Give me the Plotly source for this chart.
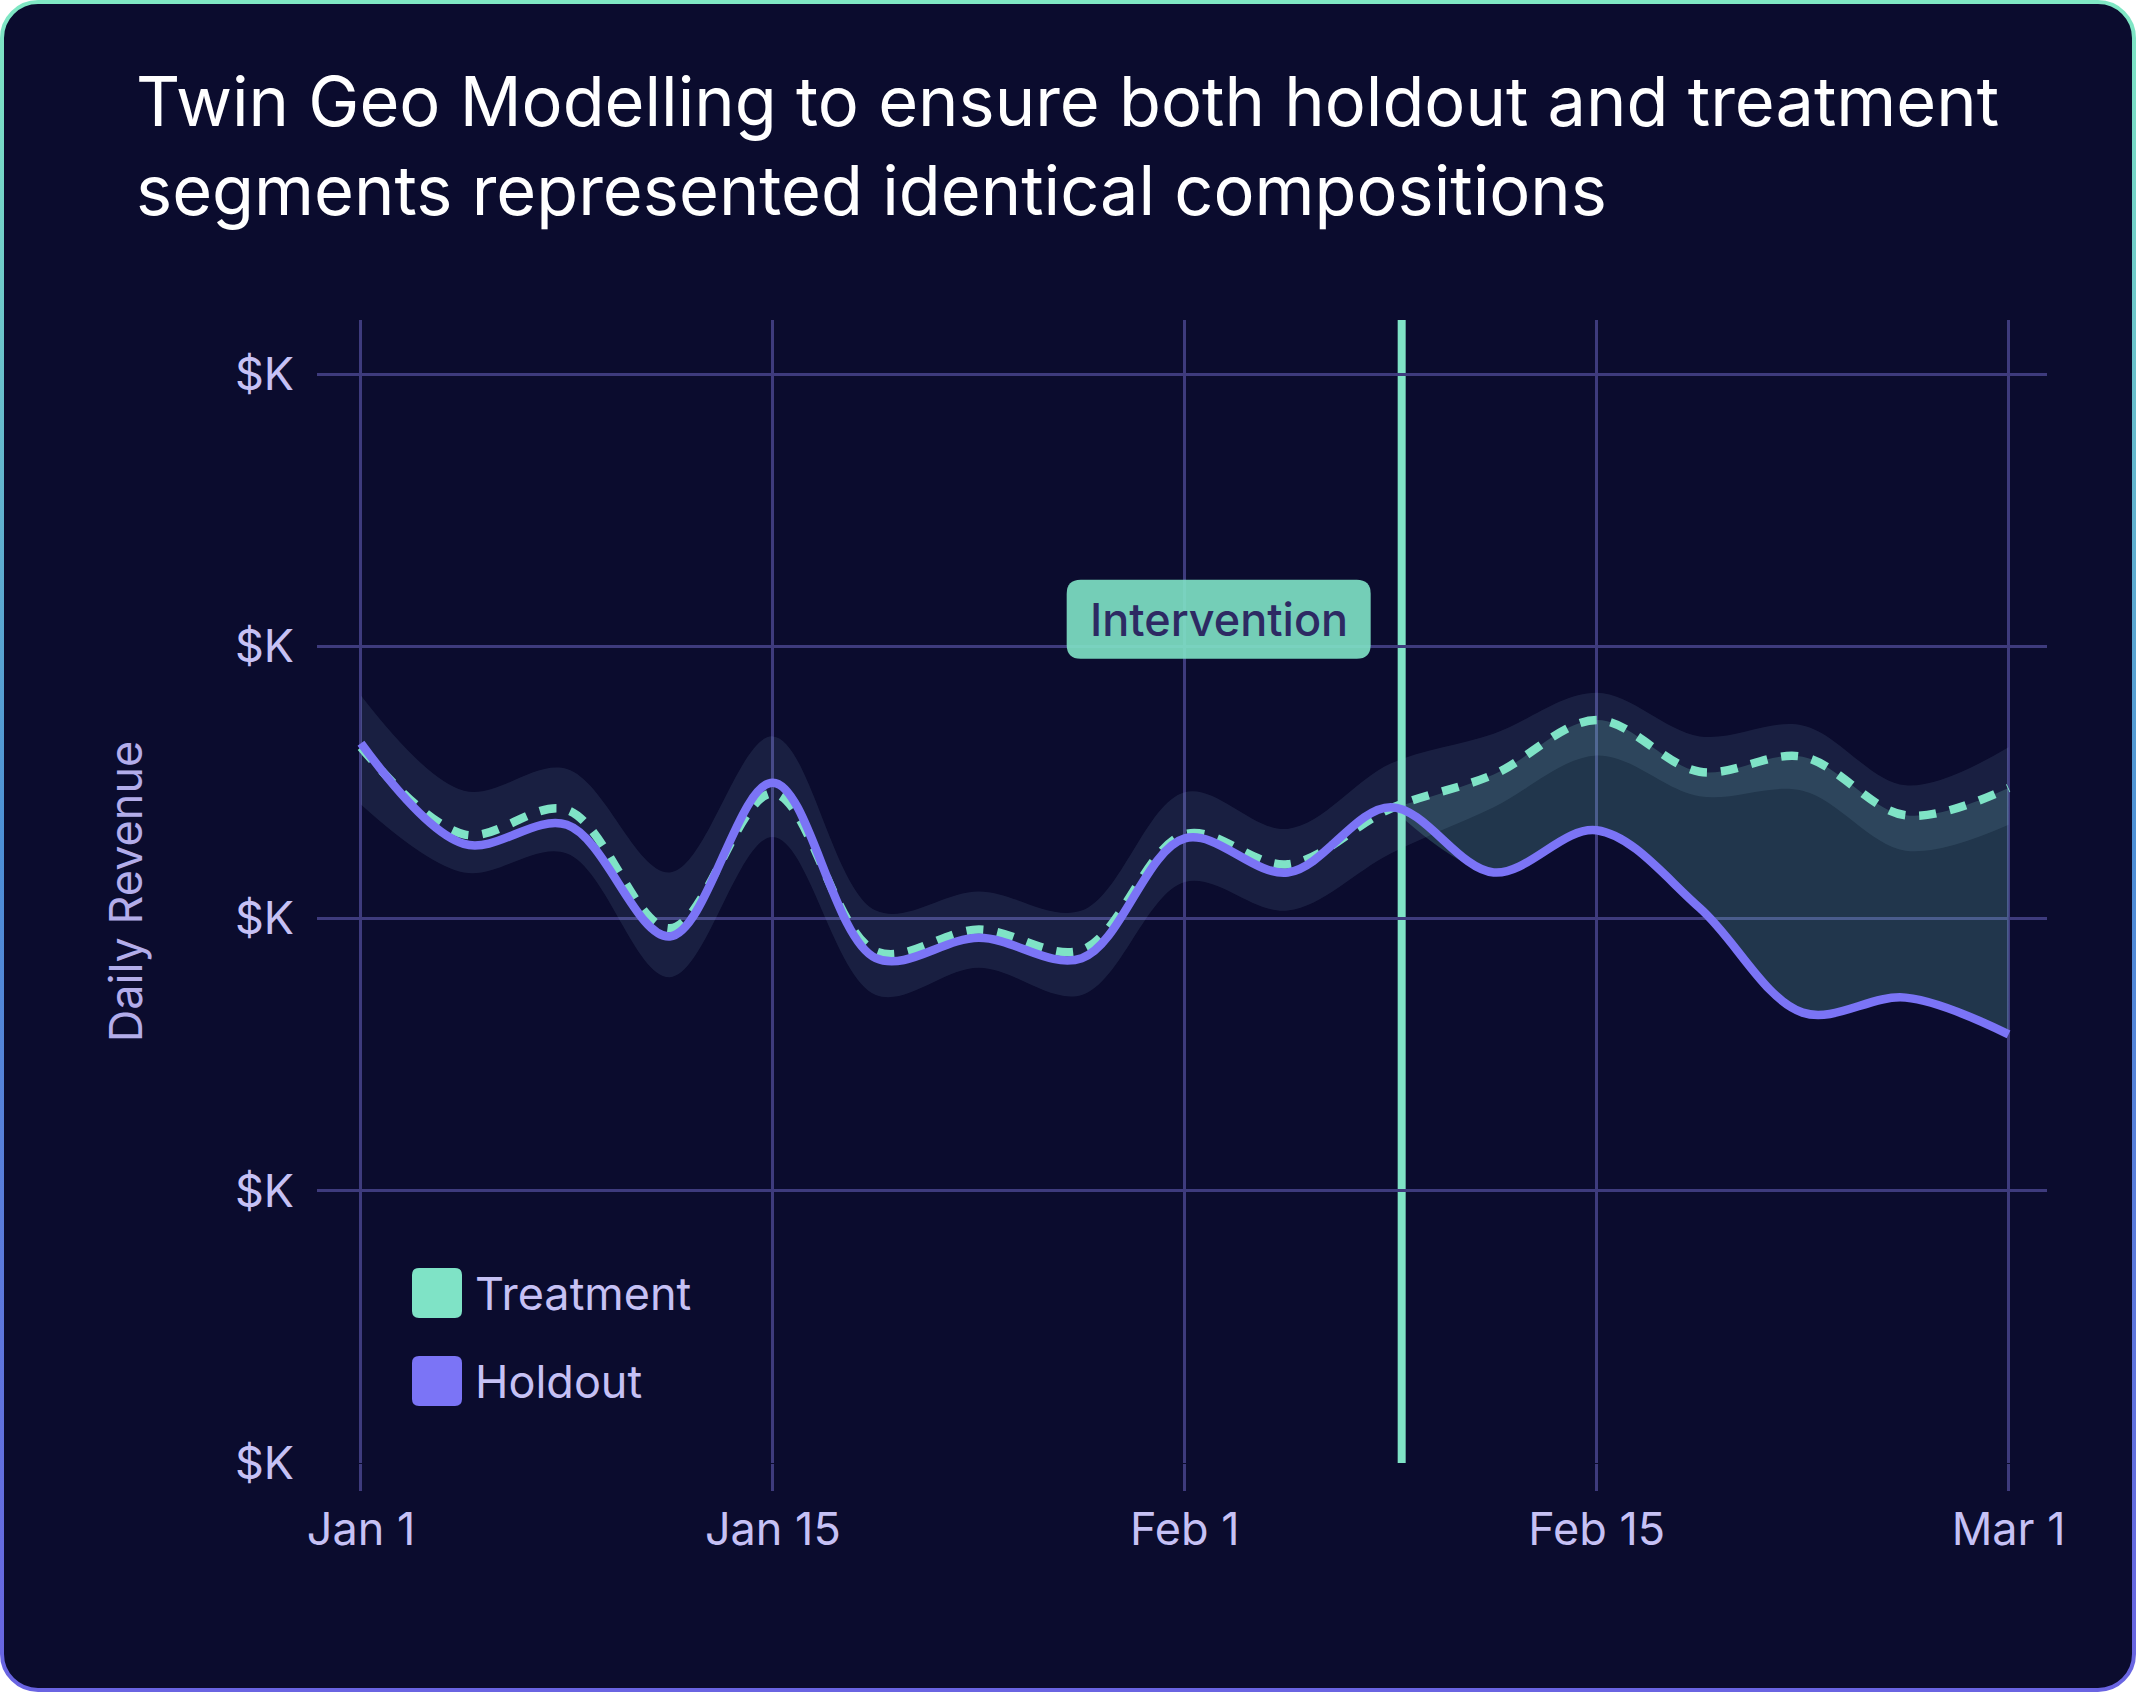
import base64
import plotly.graph_objects as go

# ---------------- data ----------------
days = [0, 3.75, 7.5, 11.25, 15, 18.75, 22.5, 26.25, 30, 33.75, 37.5,
        41.25, 45, 48.75, 52.5, 56.25, 60]
treatment = [26.3, 23.1, 24.0, 19.65, 24.6, 18.8, 19.6, 18.85, 23.1, 22.0, 24.05,
             25.3, 27.3, 25.4, 25.95, 23.8, 24.8]
holdout = [26.45, 22.75, 23.45, 19.35, 25.0, 18.55, 19.3, 18.55, 22.95, 21.7, 24.1,
           21.7, 23.25, 20.4, 16.55, 17.1, 15.75]
band_upper = [28.2, 24.7, 25.5, 21.7, 26.7, 20.3, 21.0, 20.3, 24.65, 23.3, 25.7,
              26.8, 28.3, 26.7, 27.1, 24.9, 26.3]
band_lower = [24.2, 21.7, 22.4, 17.85, 23.0, 17.2, 18.2, 17.2, 21.35, 20.3, 22.4,
              24.1, 26.0, 24.5, 24.7, 22.5, 23.45]
post_start = 10                      # first index after the intervention
intervention_day = 37.9
tick_days = [0, 15, 30, 45, 60]
tick_labels = ["Jan 1", "Jan 15", "Feb 1", "Feb 15", "Mar 1"]
y_ticks = [0, 10, 20, 30, 40]
y_tick_labels = ["$K", "$K", "$K", "$K", "$K"]
x_range = [-1.6, 61.4]
y_range = [0, 42]
label_y = 31

# ---------------- style ----------------
W, H = 2136, 1692
ML, MR, MT, MB = 317, 89, 320, 229
PW, PH = W - ML - MR, H - MT - MB
BG = "#0b0c2e"
GRID = "#3e3b7d"
TEAL = "#7fe3c6"
PURPLE = "#7b74f6"
LABEL = "#c6c1f5"
FONT = "Inter"


def px_x(x):
    return (x - ML) / PW


def px_y(y):
    return (MT + PH - y) / PH


def rrect(x0, y0, x1, y1, r):
    return (f"M{x0 + r},{y0} L{x1 - r},{y0} Q{x1},{y0} {x1},{y0 + r} "
            f"L{x1},{y1 - r} Q{x1},{y1} {x1 - r},{y1} L{x0 + r},{y1} "
            f"Q{x0},{y1} {x0},{y1 - r} L{x0},{y0 + r} Q{x0},{y0} {x0 + r},{y0} Z")


fig = go.Figure()

# confidence band
fig.add_trace(go.Scatter(x=days, y=band_lower, mode="lines",
                         line=dict(width=0, shape="spline"),
                         showlegend=False, hoverinfo="skip"))
fig.add_trace(go.Scatter(x=days, y=band_upper, mode="lines",
                         line=dict(width=0, shape="spline"), fill="tonexty",
                         fillcolor="rgba(160,210,235,0.1)",
                         showlegend=False, hoverinfo="skip"))
# gap between treatment and holdout after intervention
fig.add_trace(go.Scatter(x=days[post_start:], y=holdout[post_start:], mode="lines",
                         line=dict(width=0, shape="spline"),
                         showlegend=False, hoverinfo="skip"))
fig.add_trace(go.Scatter(x=days[post_start:], y=treatment[post_start:], mode="lines",
                         line=dict(width=0, shape="spline"), fill="tonexty",
                         fillcolor="rgba(127,227,198,0.2)",
                         showlegend=False, hoverinfo="skip"))
# lines
fig.add_trace(go.Scatter(x=days, y=treatment, mode="lines", name="Treatment",
                         line=dict(color=TEAL, width=8.5, shape="spline", dash="17px,14px"),
                         showlegend=False))
fig.add_trace(go.Scatter(x=days, y=holdout, mode="lines", name="Holdout",
                         line=dict(color=PURPLE, width=8.5, shape="spline"),
                         showlegend=False))

shapes = [
    dict(type="line", xref="x", yref="y", x0=intervention_day, x1=intervention_day,
         y0=y_range[0], y1=y_range[1], line=dict(color=TEAL, width=8), layer="below"),
    dict(type="path", xref="x", yref="y", xsizemode="pixel", ysizemode="pixel",
         xanchor=intervention_day, yanchor=label_y,
         path=rrect(-335, -39.5, -31, 39.5, 14),
         fillcolor="rgba(127,227,198,0.9)", line=dict(width=0), layer="above"),
]
legend_items = [("Treatment", TEAL, 1268), ("Holdout", PURPLE, 1356)]
annotations = [
    dict(x=intervention_day, y=label_y, xref="x", yref="y", xshift=-183,
         text="Intervention", showarrow=False, xanchor="center", yanchor="middle",
         font=dict(family=FONT, size=45, color="#2d2a63", weight=500)),
]
for name, col, top in legend_items:
    shapes.append(dict(type="path", xref="paper", yref="paper",
                       xsizemode="pixel", ysizemode="pixel",
                       xanchor=px_x(412), yanchor=px_y(top + 25),
                       path=rrect(0, -25, 50, 25, 7),
                       fillcolor=col, line=dict(width=0)))
    annotations.append(dict(x=px_x(473), y=px_y(top + 25), xref="paper", yref="paper",
                            text=name, showarrow=False, xanchor="left", yanchor="middle",
                            font=dict(family=FONT, size=45, color=LABEL)))

svg = (f"<svg xmlns='http://www.w3.org/2000/svg' width='{W}' height='{H}' "
       f"viewBox='0 0 {W} {H}'><defs><linearGradient id='g' x1='0' y1='0' x2='0' y2='1'>"
       "<stop offset='0' stop-color='#80e8c4'/><stop offset='0.5' stop-color='#4d8fd6'/>"
       "<stop offset='1' stop-color='#6a64e2'/></linearGradient></defs>"
       f"<rect x='2' y='2' width='{W - 4}' height='{H - 4}' rx='36' ry='36' "
       f"fill='{BG}' stroke='url(#g)' stroke-width='4'/></svg>")
src = "data:image/svg+xml;base64," + base64.b64encode(svg.encode()).decode()

fig.update_layout(
    width=W, height=H,
    margin=dict(l=ML, r=MR, t=MT, b=MB, autoexpand=False),
    paper_bgcolor="white", plot_bgcolor="rgba(0,0,0,0)",
    font=dict(family=FONT, color=LABEL),
    title=dict(text="Twin Geo Modelling to ensure both holdout and treatment<br>"
                    "segments represented identical compositions",
               x=136 / W, xref="container", xanchor="left",
               y=1 - 126 / H, yref="container", yanchor="top",
               font=dict(family=FONT, size=68.5, color="white")),
    xaxis=dict(range=x_range, tickvals=tick_days, ticktext=tick_labels,
               showgrid=True, gridcolor=GRID, gridwidth=2.5, zeroline=False,
               showline=False, ticks="outside", ticklen=27, tickwidth=2.5,
               tickcolor=GRID, tickfont=dict(family=FONT, size=45, color=LABEL)),
    yaxis=dict(range=y_range, tickvals=y_ticks, ticktext=y_tick_labels,
               showgrid=True, gridcolor=GRID, gridwidth=3, zeroline=False,
               showline=False, ticks="", ticklabelstandoff=22,
               tickfont=dict(family=FONT, size=45, color=LABEL),
               title=dict(text="Daily Revenue", standoff=78,
                          font=dict(family=FONT, size=45, color="#b3adea"))),
    shapes=shapes,
    annotations=annotations,
    images=[dict(source=src, xref="paper", yref="paper",
                 x=px_x(0), y=px_y(0), sizex=W / PW, sizey=H / PH,
                 sizing="stretch", xanchor="left", yanchor="top", layer="below")],
    showlegend=False,
)

fig.write_html("out.html", config={"displayModeBar": False},
               post_script="document.body.style.margin='0';document.body.style.padding='0';")
